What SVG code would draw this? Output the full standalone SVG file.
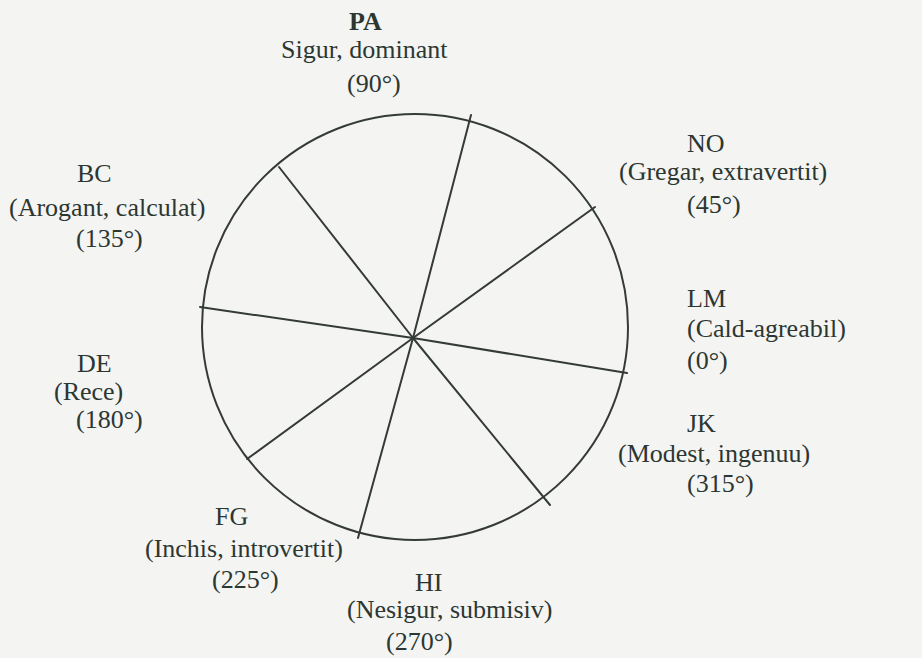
<svg xmlns="http://www.w3.org/2000/svg" width="922" height="658" viewBox="0 0 922 658">
  <style>
    .lbl { font-family: "Liberation Serif", "Times New Roman", serif; font-size: 26px; fill: #2c3732; }
    .code { font-weight: bold; }
    .ring { fill: none; stroke: #343b37; stroke-width: 2; }
    .spoke { stroke: #343b37; stroke-width: 2; stroke-linecap: round; }
  </style>
  <rect width="922" height="658" fill="#f4f4f3"/>

  <!-- outer circle of the octant model -->
  <circle class="ring" cx="415" cy="327" r="213"/>

  <!-- spokes from the common centre -->
  <g id="connectors">
    <line class="spoke" x1="413" y1="338" x2="471" y2="115"/>
    <line class="spoke" x1="413" y1="338" x2="595" y2="207"/>
    <line class="spoke" x1="413" y1="338" x2="627" y2="373"/>
    <line class="spoke" x1="413" y1="338" x2="550" y2="505"/>
    <line class="spoke" x1="413" y1="338" x2="358" y2="538"/>
    <line class="spoke" x1="413" y1="338" x2="247" y2="459"/>
    <line class="spoke" x1="413" y1="338" x2="200" y2="307"/>
    <line class="spoke" x1="413" y1="338" x2="279" y2="167"/>
  </g>

  <g id="PA">
    <text class="lbl code" x="349" y="30">PA</text>
    <text class="lbl" x="281" y="58">Sigur, dominant</text>
    <text class="lbl" x="347" y="92">(90°)</text>
  </g>
  <g id="NO">
    <text class="lbl" x="687" y="152">NO</text>
    <text class="lbl" x="619" y="180">(Gregar, extravertit)</text>
    <text class="lbl" x="687" y="213">(45°)</text>
  </g>
  <g id="LM">
    <text class="lbl" x="687" y="307">LM</text>
    <text class="lbl" x="687" y="337">(Cald-agreabil)</text>
    <text class="lbl" x="687" y="369">(0°)</text>
  </g>
  <g id="JK">
    <text class="lbl" x="687" y="432">JK</text>
    <text class="lbl" x="618" y="462">(Modest, ingenuu)</text>
    <text class="lbl" x="687" y="492">(315°)</text>
  </g>
  <g id="HI">
    <text class="lbl" x="415" y="591">HI</text>
    <text class="lbl" x="347" y="618">(Nesigur, submisiv)</text>
    <text class="lbl" x="386" y="650">(270°)</text>
  </g>
  <g id="FG">
    <text class="lbl" x="215" y="525">FG</text>
    <text class="lbl" x="145" y="557">(Inchis, introvertit)</text>
    <text class="lbl" x="212" y="588">(225°)</text>
  </g>
  <g id="DE">
    <text class="lbl" x="77" y="372">DE</text>
    <text class="lbl" x="54" y="400">(Rece)</text>
    <text class="lbl" x="76" y="428">(180°)</text>
  </g>
  <g id="BC">
    <text class="lbl" x="77" y="182">BC</text>
    <text class="lbl" x="9" y="216">(Arogant, calculat)</text>
    <text class="lbl" x="76" y="247">(135°)</text>
  </g>
</svg>
